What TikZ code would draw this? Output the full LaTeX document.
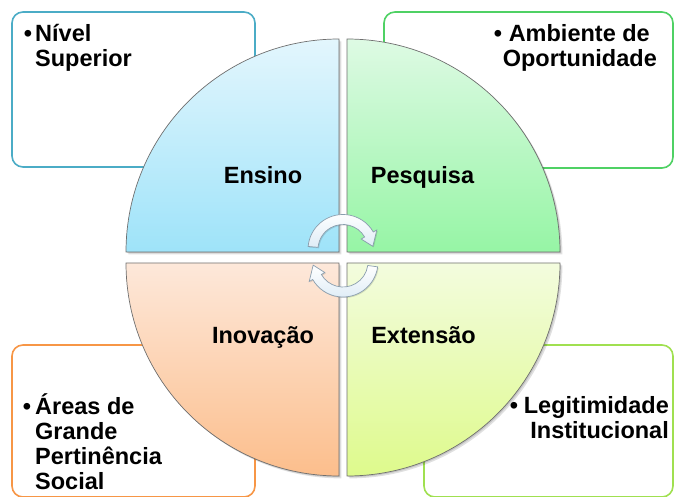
\documentclass[tikz,border=0pt]{standalone}
\usepackage{fontspec}
\setmainfont{Liberation Sans}
\usetikzlibrary{calc}
\definecolor{cTL}{HTML}{4BACC6}
\definecolor{cTR}{HTML}{4FD164}
\definecolor{cBL}{HTML}{F79646}
\definecolor{cBR}{HTML}{A0E050}
\definecolor{qline}{HTML}{6F6F6F}
\definecolor{aline}{HTML}{8A9EAE}
\begin{document}
\begin{tikzpicture}[x=1pt,y=1pt,
  box/.style={line width=1.6pt, rounded corners=11pt, fill=white},
  quad/.style={draw=qline, line width=0.7pt},
  shadowfill/.style={fill=black, opacity=0.12},
  lbl/.style={font=\fontsize{23.5}{25}\selectfont\bfseries, inner sep=0pt, text=black},
  bul/.style={font=\fontsize{23.5}{25}\selectfont\bfseries, inner sep=0pt, anchor=base},
  arr/.style={draw=aline, line width=0.7pt, top color=white, bottom color={rgb,255:red,222;green,236;blue,246}}]
\useasboundingbox (0,0) rectangle (675,496);
\clip (0,0) rectangle (675,496);
% corner boxes
\draw[box, draw=cTL] (12,329) rectangle (255,484);
\draw[box, draw=cTR] (384,328) rectangle (673,484);
\draw[box, draw=cBL] (12,-1) rectangle (255,151);
\draw[box, draw=cBR] (424,-1) rectangle (673,151);
% shadows of quadrants
\foreach \d in {1.2,2.4}{
  \fill[shadowfill] ($(339,244)+(\d,-\d)$) -- ++(-213,0) arc[start angle=180,end angle=90,radius=213pt] -- cycle;
  \fill[shadowfill] ($(347,244)+(\d,-\d)$) -- ++(0,213) arc[start angle=90,end angle=0,radius=213pt] -- cycle;
  \fill[shadowfill] ($(339,233)+(\d,-\d)$) -- ++(0,-213) arc[start angle=270,end angle=180,radius=213pt] -- cycle;
  \fill[shadowfill] ($(347,233)+(\d,-\d)$) -- ++(213,0) arc[start angle=0,end angle=-90,radius=213pt] -- cycle;
}
% quadrants
\shade[quad, top color={rgb,255:red,227;green,246;blue,253}, bottom color={rgb,255:red,158;green,227;blue,249}]
  (339,244) -- ++(-213,0) arc[start angle=180,end angle=90,radius=213pt] -- cycle;
\shade[quad, top color={rgb,255:red,222;green,250;blue,228}, bottom color={rgb,255:red,150;green,245;blue,165}]
  (347,244) -- ++(0,213) arc[start angle=90,end angle=0,radius=213pt] -- cycle;
\shade[quad, top color={rgb,255:red,253;green,232;blue,218}, bottom color={rgb,255:red,252;green,190;blue,140}]
  (339,233) -- ++(0,-213) arc[start angle=270,end angle=180,radius=213pt] -- cycle;
\shade[quad, top color={rgb,255:red,243;green,252;blue,222}, bottom color={rgb,255:red,222;green,250;blue,140}]
  (347,233) -- ++(213,0) arc[start angle=0,end angle=-90,radius=213pt] -- cycle;
% circular arrows
\begin{scope}[shift={(343,246.5)}]
  \fill[black,opacity=0.12,shift={(1,-1)}] (175:35pt) arc[start angle=175,end angle=30,radius=35pt] -- (30:39pt) -- (6:30pt) -- (30:21pt) -- (30:25pt) arc[start angle=30,end angle=175,radius=25pt] -- cycle;
  \path[arr] (175:35pt) arc[start angle=175,end angle=30,radius=35pt] -- (30:39pt) -- (6:30pt) -- (30:21pt) -- (30:25pt) arc[start angle=30,end angle=175,radius=25pt] -- cycle;
\end{scope}
\begin{scope}[shift={(343,234)}]
  \fill[black,opacity=0.12,shift={(1,-1)}] (352:35pt) arc[start angle=352,end angle=210,radius=35pt] -- (210:39pt) -- (186:30pt) -- (210:21pt) -- (210:25pt) arc[start angle=210,end angle=352,radius=25pt] -- cycle;
  \path[arr] (352:35pt) arc[start angle=352,end angle=210,radius=35pt] -- (210:39pt) -- (186:30pt) -- (210:21pt) -- (210:25pt) arc[start angle=210,end angle=352,radius=25pt] -- cycle;
\end{scope}
% quadrant labels
\node[lbl, anchor=base] (ensino) at (263,312) {Ensino};
\node[lbl, anchor=base] (pesquisa) at (422.5,312) {Pesquisa};
\node[lbl, anchor=base] (inovacao) at (263,152.5) {Inovação};
\node[lbl, anchor=base] (extensao) at (423.5,152.5) {Extensão};
% top-left box text
\node[bul] (b1) at (28,454) {•};
\node[lbl, anchor=base west] (t1a) at (35,454) {Nível};
\node[lbl, anchor=base west] (t1b) at (35,429) {Superior};
% top-right box text
\node[bul] (b2) at (498,454) {•};
\node[lbl, anchor=base east] (t2a) at (650,454) {Ambiente de};
\node[lbl, anchor=base east] (t2b) at (657,429) {Oportunidade};
% bottom-left box text
\node[bul] (b3) at (27,82) {•};
\node[lbl, anchor=base west] (t3a) at (35,82) {Áreas de};
\node[lbl, anchor=base west] (t3b) at (35,57) {Grande};
\node[lbl, anchor=base west] (t3c) at (35,32) {Pertinência};
\node[lbl, anchor=base west] (t3d) at (35,7) {Social};
% bottom-right box text
\node[bul] (b4) at (514,83) {•};
\node[lbl, anchor=base east] (t4a) at (669,83) {Legitimidade};
\node[lbl, anchor=base east] (t4b) at (669,58) {Institucional};
\end{tikzpicture}
\end{document}
